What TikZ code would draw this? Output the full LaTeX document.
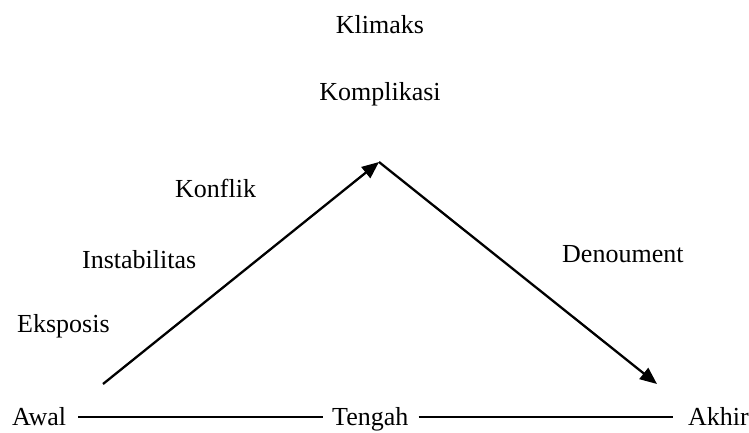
\documentclass[tikz,border=0pt]{standalone}
\usepackage{fontspec}
\setmainfont{Liberation Serif}
\usetikzlibrary{arrows.meta}
\begin{document}
\begin{tikzpicture}[x=1pt,y=-1pt,
  lbl/.style={inner sep=0pt,font=\fontsize{26}{30}\selectfont},
  arr/.style={line width=2.3pt,-{Triangle[length=17pt,width=14pt]}},
  axisline/.style={line width=1.4pt}]
\useasboundingbox (0,0) rectangle (749,432);
\node[lbl,anchor=base] (klimaks) at (380,33) {Klimaks};
\node[lbl,anchor=base] (komplikasi) at (380,100) {Komplikasi};
\node[lbl,anchor=base west] (konflik) at (175,197) {Konflik};
\node[lbl,anchor=base west] (instabilitas) at (82,268) {Instabilitas};
\node[lbl,anchor=base west] (eksposis) at (17,332) {Eksposis};
\node[lbl,anchor=base west] (denoument) at (562,262) {Denoument};
\node[lbl,anchor=base west] (awal) at (12,425) {Awal};
\node[lbl,anchor=base west] (tengah) at (332,425) {Tengah};
\node[lbl,anchor=base west] (akhir) at (688,425) {Akhir};
\coordinate (start) at (103,384);
\coordinate (apex) at (379,162);
\coordinate (finish) at (657,384);
\draw[arr] (start) -- (apex);
\draw[arr] (apex) -- (finish);
\draw[axisline] ([xshift=12pt,yshift=8pt]awal.base east) -- ([xshift=-9pt,yshift=8pt]tengah.base west);
\draw[axisline] ([xshift=10pt,yshift=8pt]tengah.base east) -- ([xshift=-15pt,yshift=8pt]akhir.base west);
\end{tikzpicture}
\end{document}
